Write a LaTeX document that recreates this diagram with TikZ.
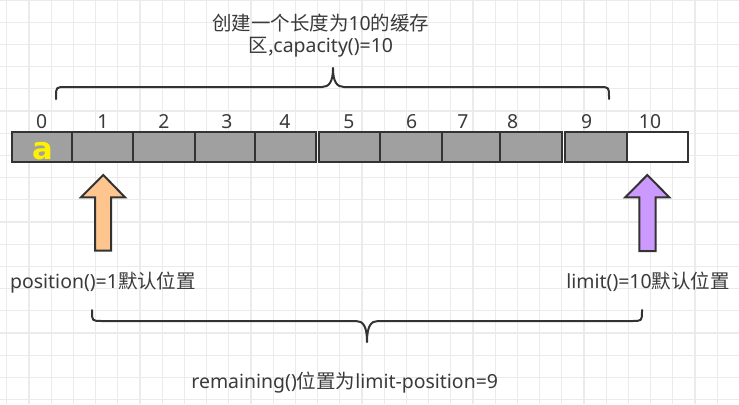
\documentclass[tikz,border=0pt]{standalone}
\usepackage{fontspec}
\setmainfont{Noto Sans}
\newfontfamily\cjk{Noto Sans CJK SC}
\newfontfamily\afont{DejaVu Sans}
\definecolor{gridc}{HTML}{EBEBEB}
\definecolor{ink}{HTML}{333333}
\definecolor{txt}{HTML}{3A3A3A}
\definecolor{cellfill}{HTML}{A0A0A0}
\definecolor{orangefill}{HTML}{FFC58F}
\definecolor{purplefill}{HTML}{CC99FF}
\tikzset{
  gridline/.style={draw=gridc, line width=0.8pt},
  cellbox/.style={draw=ink, line width=1.5pt, fill=cellfill, inner sep=0pt, outer sep=0pt, minimum height=22.5pt},
  emptybox/.style={cellbox, fill=white},
  idx/.style={text=txt, font=\fontsize{14.5pt}{16pt}\selectfont, anchor=base, inner sep=0pt},
  lbl/.style={text=txt, font=\fontsize{14.6pt}{16pt}\selectfont, anchor=base, inner sep=0pt},
  bracepath/.style={draw=ink, line width=1.5pt, line cap=round, line join=round},
  blockarrow/.style={draw=ink, line width=1.5pt, line join=miter},
}
\begin{document}
\begin{tikzpicture}[x=0.75pt, y=-0.75pt]
\fill[white] (0,0) rectangle (739,404);
\useasboundingbox (0,0) rectangle (739,404);
% grid
\foreach \i in {0,...,33} \draw[gridline] ({6.8+22.2*\i},0) -- ({6.8+22.2*\i},404);
\foreach \j in {0,...,18} \draw[gridline] (0,{22.2*\j}) -- (739,{22.2*\j});

% cells
\foreach \n/\l/\r in {0/11.7/72.3, 1/72.3/133.3, 2/133.3/195, 3/195/255, 4/255/316,
                      5/319/380, 6/380/441.7, 7/441.7/500, 8/500/561.7, 9/565/626.7}{
  \pgfmathsetmacro\w{(\r-\l)*0.75}
  \node[cellbox, minimum width=\w pt] (c\n) at ({(\l+\r)/2},147.3) {};
}
\node[emptybox, minimum width=46.2pt] (c10) at (657.5,147.3) {};

% index labels
\foreach \n/\x in {0/41.7, 1/103, 2/164, 3/227, 4/285, 5/349, 6/411.7, 7/463, 8/512.7, 9/586.7, 10/650}
  \node[idx] (i\n) at (\x,128.3) {\n};

% the element a
\node[text=yellow, font=\afont\bfseries\fontsize{23pt}{25pt}\selectfont, anchor=base, inner sep=0pt] (va) at (42.5,159) {a};

% top brace
\draw[bracepath] (56,99) -- (56,97) .. controls (56,87) .. (66,87) -- (322,87)
  .. controls (329,87) and (333,82) .. (333,68)
  .. controls (333,82) and (337,87) .. (344,87) -- (599,87)
  .. controls (609,87) .. (609,97) -- (609,99);
\node[lbl] (cap1) at (320.8,30) {{\cjk 创建一个长度为}10{\cjk 的缓存}};
\node[lbl] (cap2) at (320.8,52.7) {{\cjk 区}{\cjk ,}capacity()=10};

% block arrows
\draw[blockarrow, fill=orangefill] (103.3,175) -- (125,197.3) -- (111,197.3) -- (111,250.7)
  -- (95,250.7) -- (95,197.3) -- (81,197.3) -- cycle;
\draw[blockarrow, fill=purplefill] (647.3,175) -- (669.3,197.3) -- (655.6,197.3) -- (655.6,251)
  -- (639.3,251) -- (639.3,197.3) -- (625.3,197.3) -- cycle;

\node[lbl] (pos) at (103,288.5) {position()=1{\cjk 默认位置}};
\node[lbl] (lim) at (648,288.5) {limit()=10{\cjk 默认位置}};

% bottom brace
\draw[bracepath] (92,310) -- (92,311) .. controls (92,321) .. (102,321) -- (356,321)
  .. controls (363,321) and (367,326) .. (367,342)
  .. controls (367,326) and (371,321) .. (378,321) -- (632,321)
  .. controls (642,321) .. (642,311) -- (642,310);

\node[lbl] (rem) at (344.7,388.3) {remaining(){\cjk 位置为}limit-position=9};
\end{tikzpicture}
\end{document}
